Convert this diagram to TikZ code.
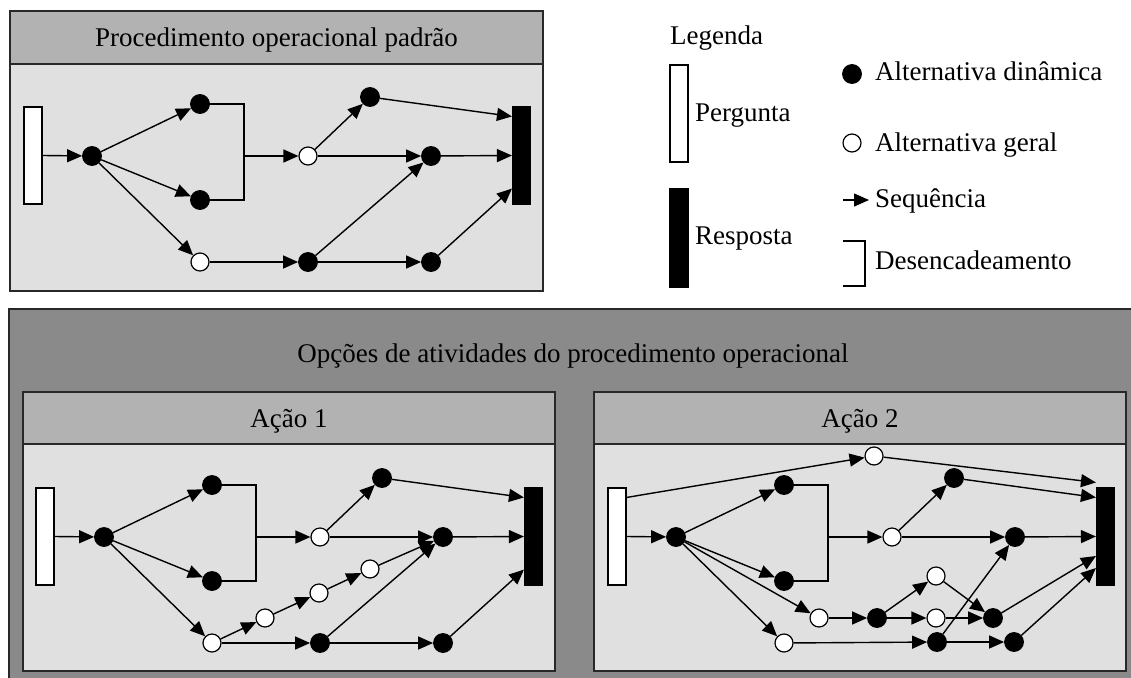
\documentclass[tikz,border=0pt]{standalone}
\usepackage{fontspec}
\setmainfont{Liberation Serif}
\usetikzlibrary{arrows.meta,calc}
\definecolor{headgray}{RGB}{178,178,178}
\definecolor{bodygray}{RGB}{224,224,224}
\definecolor{outergray}{RGB}{138,138,138}
\definecolor{edgegray}{RGB}{40,40,40}
\tikzset{
  seq/.style={-{Triangle[length=15pt,width=13pt]}, line width=1.4pt, draw=black},
  link/.style={line width=1.4pt, draw=black},
  dyn/.style={circle, fill=black, draw=black, line width=0.8pt, minimum size=19pt, inner sep=0pt},
  gen/.style={circle, fill=white, draw=black, line width=1.2pt, minimum size=18pt, inner sep=0pt},
  qbox/.style={rectangle, draw=black, fill=white, line width=1.1pt, minimum width=18pt, minimum height=97pt, inner sep=0pt},
  rbox/.style={qbox, fill=black},
  lbl/.style={font=\fontsize{27}{31}\selectfont, inner sep=0pt, text=black},
  panelhead/.style={fill=headgray, draw=edgegray, line width=1.5pt},
  panelbody/.style={fill=bodygray, draw=edgegray, line width=1.5pt},
  pics/stdgraph/.style={code={
    \node[qbox] (-Q) at (33,155.5) {};
    \node[rbox] (-R) at (521.5,155.5) {};
    \node[dyn] (-d1) at (92,156) {};
    \node[dyn] (-dT) at (200,104) {};
    \node[dyn] (-dM) at (200,200) {};
    \coordinate (-bk) at (244,156);
    \node[gen] (-w1) at (308,156) {};
    \node[dyn] (-dTR) at (370,97) {};
    \node[dyn] (-dMR) at (431,156) {};
    \node[gen] (-wB) at (200,262) {};
    \draw[seq] (-Q.east) -- (-d1);
    \draw[seq] (-d1) -- (-dT);
    \draw[seq] (-d1) -- (-dM);
    \draw[seq] (-d1) -- (-wB);
    \draw[link] (-dT.east) -| (-bk) |- (-dM.east);
    \draw[seq] (-bk) -- (-w1);
    \draw[seq] (-w1) -- (-dTR);
    \draw[seq] (-w1) -- (-dMR);
    \draw[seq] (-dTR) -- ([yshift=-10pt]-R.north west);
    \draw[seq] (-dMR) -- (-R.west);
  }},
  pics/lowrow/.style={code={
    \node[dyn] (-dB) at (308,262) {};
    \node[dyn] (-dBR) at (431,262) {};
    \draw[seq] (-wB) -- (-dB);
    \draw[seq] (-dB) -- (-dMR);
    \draw[seq] (-dB) -- (-dBR);
    \draw[seq] (-dBR) -- ([yshift=16pt]-R.south west);
  }}
}
\begin{document}
\begin{tikzpicture}[x=1pt,y=-1pt]
\useasboundingbox (0,0) rectangle (1131,677);
\clip (0,0) rectangle (1131,677);
\fill[white] (0,0) rectangle (1131,677);

% ---------- top panel ----------
\draw[panelbody] (10,11) rectangle (543,291);
\draw[panelhead] (10,11) rectangle (543,64);
\node[lbl, anchor=base] (ttop) at (276.5,46) {Procedimento operacional padrão};
\pic (p) at (0,0) {stdgraph};
\pic (p) at (0,0) {lowrow};

% ---------- legend ----------
\node[lbl, anchor=base west] (leg) at (670,45) {Legenda};
\node[qbox] (lq) at (679,113.5) {};
\node[rbox, minimum height=98pt] (lr) at (679,238) {};
\node[lbl, anchor=base west] (lqt) at (695,121) {Pergunta};
\node[lbl, anchor=base west] (lrt) at (695,244) {Resposta};
\node[dyn] (ld) at (852,74) {};
\node[gen] (lg) at (852,143) {};
\node[lbl, anchor=base west] (ldt) at (875,80) {Alternativa dinâmica};
\node[lbl, anchor=base west] (lgt) at (875,151) {Alternativa geral};
\coordinate (la1) at (843,200);
\coordinate (la2) at (869,200);
\draw[seq] (la1) -- (la2);
\node[lbl, anchor=base west] (lst) at (875,207) {Sequência};
\coordinate (lb1) at (843,241);
\coordinate (lb2) at (843,286);
\draw[link] (lb1) -- (865,241) -- (865,286) -- (lb2);
\node[lbl, anchor=base west] (lbt) at (875,269) {Desencadeamento};

% ---------- bottom panel ----------
\draw[fill=outergray, draw=edgegray, line width=1.5pt] (9,309) rectangle (1140,690);
\node[lbl, anchor=base] (tbot) at (573,362) {Opções de atividades do procedimento operacional};

% Acao 1
\draw[panelbody] (23,392) rectangle (555,671);
\draw[panelhead] (23,392) rectangle (555,444);
\node[lbl, anchor=base] (t1) at (289,427) {Ação 1};
\pic (a) at (12,381) {stdgraph};
\pic (a) at (12,381) {lowrow};
\node[gen] (a-s1) at (265,618) {};
\node[gen] (a-s2) at (319,593) {};
\node[gen] (a-s3) at (370,569) {};
\draw[seq] (a-wB) -- (a-s1);
\draw[seq] (a-s1) -- (a-s2);
\draw[seq] (a-s2) -- (a-s3);
\draw[seq] (a-s3) -- (a-dMR);

% Acao 2
\draw[panelbody] (594,392) rectangle (1126,671);
\draw[panelhead] (594,392) rectangle (1126,444);
\node[lbl, anchor=base] (t2) at (860,427) {Ação 2};
\pic (b) at (584,381) {stdgraph};
\node[gen] (b-wTop) at (874,456) {};
\node[gen] (b-wA) at (819,618) {};
\node[dyn] (b-dA) at (877,618) {};
\node[gen] (b-wAu) at (936,576) {};
\node[gen] (b-wAm) at (936,618) {};
\node[dyn] (b-dAr) at (993,618) {};
\node[dyn] (b-dB) at (937,642) {};
\node[dyn] (b-dBR) at (1014,642) {};
\draw[seq] ([yshift=-10pt]b-Q.north east) -- (b-wTop);
\draw[seq] (b-wTop) -- ([yshift=5pt]b-R.north west);
\draw[seq] (b-d1) -- (b-wA);
\draw[seq] (b-wA) -- (b-dA);
\draw[seq] (b-dA) -- (b-wAu);
\draw[seq] (b-dA) -- (b-wAm);
\draw[seq] (b-wAu) -- (b-dAr);
\draw[seq] (b-wAm) -- (b-dAr);
\draw[seq] (b-dAr) -- ([yshift=-19.5pt]b-R.west);
\draw[seq] (b-wB) -- (b-dB);
\draw[seq] (b-dB) -- (b-dMR);
\draw[seq] (b-dB) -- (b-dBR);
\draw[seq] (b-dBR) -- ([yshift=-31.5pt]b-R.west);
\end{tikzpicture}
\end{document}
